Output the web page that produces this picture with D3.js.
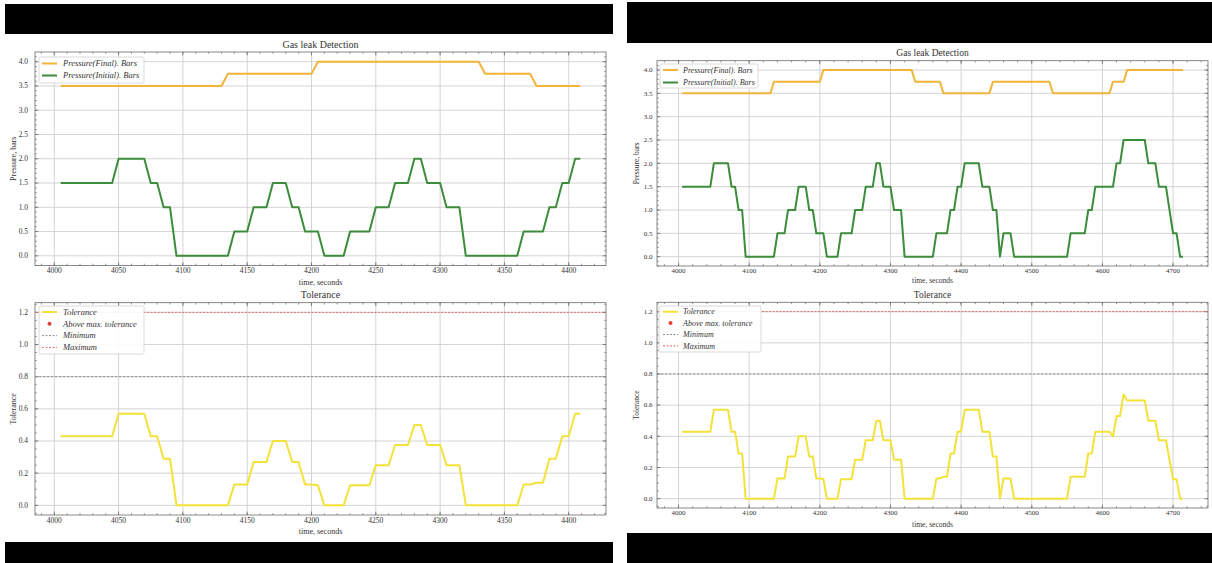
<!DOCTYPE html>
<html><head><meta charset="utf-8">
<script src="https://cdn.jsdelivr.net/npm/d3@7"></script>
<style>
html,body{margin:0;padding:0;background:#fff;}
svg{display:block;}
text{font-family:"Liberation Serif","DejaVu Serif",serif;fill:#333;}
</style></head>
<body>
<script>
// ---------- DATA ----------
const chartTitle = "Gas leak Detection";
const tolTitle = "Tolerance";
const xLabel = "time, seconds";
const pressureLabel = "Pressure, bars";
const tolLabel = "Tolerance";
const seriesNames = ["Pressure(Final). Bars", "Pressure(Initial). Bars"];
const tolLegendNames = ["Tolerance", "Above max. tolerance", "Minimum", "Maximum"];

const leftXTicks = [4000,4050,4100,4150,4200,4250,4300,4350,4400];
const rightXTicks = [4000,4100,4200,4300,4400,4500,4600,4700];
const pressureTicks = [0.0,0.5,1.0,1.5,2.0,2.5,3.0,3.5,4.0];
const toleranceTicks = [0.0,0.2,0.4,0.6,0.8,1.0,1.2];
const minTolerance = 0.8;
const maxTolerance = 1.2;

// left screenshot
const leftFinalT = [4005,4130,4135,4200,4205,4330,4335,4370,4375,4409];
const leftFinalV = [3.5,3.5,3.75,3.75,4.0,4.0,3.75,3.75,3.5,3.5];
const leftInitT = [4005,4045,4050,4070,4075,4080,4085,4090,4095,4135,
  4140,4150,4155,4165,4170,4180,4185,4190,4195,4205,
  4210,4225,4230,4245,4250,4260,4265,4275,4280,4285,
  4290,4300,4305,4315,4320,4360,4365,4380,4385,4390,
  4395,4400,4405,4409];
const leftInitV = [1.5,1.5,2,2,1.5,1.5,1,1,0,0,
  0.5,0.5,1,1,1.5,1.5,1,1,0.5,0.5,
  0,0,0.5,0.5,1,1,1.5,1.5,2,2,
  1.5,1.5,1,1,0,0,0.5,0.5,1,1,
  1.5,1.5,2,2];
const leftTolT = [4005,4045,4050,4070,4075,4080,4085,4090,4095,4135,
  4140,4150,4155,4165,4170,4180,4185,4190,4195,4200,
  4205,4210,4225,4230,4245,4250,4260,4265,4275,4280,
  4285,4290,4300,4305,4315,4320,4360,4365,4370,4375,
  4380,4385,4390,4395,4400,4405,4409];
const leftTolV = [0.43,0.43,0.57,0.57,0.43,0.43,0.29,0.29,0,0,
  0.13,0.13,0.27,0.27,0.40,0.40,0.27,0.27,0.13,0.13,
  0.125,0,0,0.125,0.125,0.25,0.25,0.375,0.375,0.5,
  0.5,0.375,0.375,0.25,0.25,0,0,0.13,0.13,0.14,
  0.14,0.29,0.29,0.43,0.43,0.57,0.57];

// right screenshot
const rightFinalT = [4005,4130,4135,4200,4205,4330,4335,4370,4375,4440,4445,4525,4530,4610,4615,4630,4635,4714];
const rightFinalV = [3.5,3.5,3.75,3.75,4.0,4.0,3.75,3.75,3.5,3.5,3.75,3.75,3.5,3.5,3.75,3.75,4.0,4.0];
const rightInitT = [4005,4045,4050,4070,4075,4080,4085,4090,4095,4135,
  4140,4150,4155,4165,4170,4180,4185,4190,4195,4205,
  4210,4225,4230,4245,4250,4260,4265,4275,4280,4285,
  4290,4300,4305,4315,4320,4360,4365,4380,4385,4390,
  4395,4400,4405,4425,4430,4440,4445,4450,4455,4460,
  4470,4475,4550,4555,4575,4580,4585,4590,4615,4620,
  4625,4630,4660,4665,4675,4680,4690,4700,4705,4710,
  4714];
const rightInitV = [1.5,1.5,2,2,1.5,1.5,1,1,0,0,
  0.5,0.5,1,1,1.5,1.5,1,1,0.5,0.5,
  0,0,0.5,0.5,1,1,1.5,1.5,2,2,
  1.5,1.5,1,1,0,0,0.5,0.5,1,1,
  1.5,1.5,2,2,1.5,1.5,1,1,0,0.5,
  0.5,0,0,0.5,0.5,1,1,1.5,1.5,2,
  2,2.5,2.5,2,2,1.5,1.5,0.5,0.5,0,
  0];
const rightTolT = [4005,4045,4050,4070,4075,4080,4085,4090,4095,4135,
  4140,4150,4155,4165,4170,4180,4185,4190,4195,4200,
  4205,4210,4225,4230,4245,4250,4260,4265,4275,4280,
  4285,4290,4300,4305,4315,4320,4360,4365,4370,4375,
  4380,4385,4390,4395,4400,4405,4425,4430,4440,4445,
  4450,4455,4460,4470,4475,4550,4555,4575,4580,4585,
  4590,4610,4615,4620,4625,4630,4635,4660,4665,4675,
  4680,4690,4700,4705,4710,4714];
const rightTolV = [0.43,0.43,0.57,0.57,0.43,0.43,0.29,0.29,0,0,
  0.13,0.13,0.27,0.27,0.40,0.40,0.27,0.27,0.13,0.13,
  0.125,0,0,0.125,0.125,0.25,0.25,0.375,0.375,0.5,
  0.5,0.375,0.375,0.25,0.25,0,0,0.13,0.13,0.14,
  0.14,0.29,0.29,0.43,0.43,0.57,0.57,0.43,0.43,0.27,
  0.27,0,0.13,0.13,0,0,0.14,0.14,0.29,0.29,
  0.43,0.43,0.40,0.53,0.53,0.67,0.63,0.63,0.5,0.5,
  0.375,0.375,0.125,0.125,0,0];

// ---------- STYLE / LAYOUT ----------
const W = 1212, H = 563;
const C = {final:"#f0b53a", init:"#3c8c3c", tol:"#f3e23a", red:"#e0403a", minC:"#8a8f99", maxC:"#e46a6a",
           grid:"#c9c9c9", frame:"#6a6a6a"};

const svg = d3.select("body").append("svg").attr("width", W).attr("height", H);
svg.append("rect").attr("width", W).attr("height", H).attr("fill", "#fff");

// black bars of the screenshots
const bars = [
  {x:5, y:4, w:608, h:30}, {x:5, y:542, w:608, h:21},
  {x:627, y:2, w:585, h:41}, {x:627, y:533, w:585, h:30}
];
svg.selectAll("rect.bar").data(bars).join("rect").attr("class","bar")
  .attr("x", d=>d.x).attr("y", d=>d.y).attr("width", d=>d.w).attr("height", d=>d.h).attr("fill", "#000");

const zip = (T, V) => T.map((t, i) => ({t, v: V[i]}));

function drawAxes(g, x, y, xTicks, yTicks, yFmt, minorX, minorY, P) {
  const fs = P.fs;
  const [x0, x1] = x.range(), [y1, y0] = y.range();
  // grid
  g.append("g").selectAll("line").data(xTicks).join("line")
    .attr("x1", d=>x(d)).attr("x2", d=>x(d)).attr("y1", y0).attr("y2", y1)
    .attr("stroke", C.grid).attr("stroke-width", 0.8);
  g.append("g").selectAll("line").data(yTicks).join("line")
    .attr("x1", x0).attr("x2", x1).attr("y1", d=>y(d)).attr("y2", d=>y(d))
    .attr("stroke", C.grid).attr("stroke-width", 0.8);
  // frame
  g.append("rect").attr("x", x0).attr("y", y0).attr("width", x1-x0).attr("height", y1-y0)
    .attr("fill", "none").attr("stroke", C.frame).attr("stroke-width", 0.8);
  // ticks (inward, all sides)
  const tk = g.append("g").attr("stroke", C.frame).attr("stroke-width", 0.7);
  const xd = x.domain(), yd = y.domain();
  const mx = d3.range(Math.ceil(xd[0]/minorX)*minorX, xd[1], minorX);
  const my = d3.range(Math.ceil(yd[0]/minorY)*minorY, yd[1], minorY);
  xTicks.forEach(t => { tk.append("line").attr("x1",x(t)).attr("x2",x(t)).attr("y1",y1).attr("y2",y1-3.5);
                        tk.append("line").attr("x1",x(t)).attr("x2",x(t)).attr("y1",y0).attr("y2",y0+3.5); });
  mx.forEach(t => { tk.append("line").attr("x1",x(t)).attr("x2",x(t)).attr("y1",y1).attr("y2",y1-1.8);
                    tk.append("line").attr("x1",x(t)).attr("x2",x(t)).attr("y1",y0).attr("y2",y0+1.8); });
  yTicks.forEach(t => { tk.append("line").attr("y1",y(t)).attr("y2",y(t)).attr("x1",x0).attr("x2",x0+3.5);
                        tk.append("line").attr("y1",y(t)).attr("y2",y(t)).attr("x1",x1).attr("x2",x1-3.5); });
  my.forEach(t => { tk.append("line").attr("y1",y(t)).attr("y2",y(t)).attr("x1",x0).attr("x2",x0+1.8);
                    tk.append("line").attr("y1",y(t)).attr("y2",y(t)).attr("x1",x1).attr("x2",x1-1.8); });
  // labels
  g.append("g").selectAll("text").data(xTicks).join("text")
    .attr("x", d=>x(d)).attr("y", y1 + P.tickDy).attr("text-anchor","middle")
    .attr("font-size", fs).attr("fill", "#444").text(d=>d);
  g.append("g").selectAll("text").data(yTicks).join("text")
    .attr("x", x0 - P.yTickGap).attr("y", d=>y(d) + fs*0.33).attr("text-anchor","end")
    .attr("font-size", fs).attr("fill", "#444").text(d=>yFmt(d));
}

function legend(g, box, items, fs) {
  g.append("rect").attr("x", box.x).attr("y", box.y).attr("width", box.w).attr("height", box.h)
    .attr("fill", "#fff").attr("fill-opacity", 0.9).attr("stroke", "#d0d0d0").attr("stroke-width", 0.8).attr("rx", 1.5);
  items.forEach((it, i) => {
    const yy = box.y + box.pad + i*box.step;
    if (it.type === "dot") {
      g.append("circle").attr("cx", box.sx + box.sw/2).attr("cy", yy).attr("r", 2).attr("fill", it.color);
    } else {
      g.append("line").attr("x1", box.sx).attr("x2", box.sx + box.sw).attr("y1", yy).attr("y2", yy)
        .attr("stroke", it.color).attr("stroke-width", it.w || 2).attr("stroke-dasharray", it.dash || null);
    }
    g.append("text").attr("x", box.tx).attr("y", yy + fs*0.33).attr("font-size", fs)
      .attr("font-style", "italic").text(it.label);
  });
}

function panel(P) {
  const g = svg.append("g");
  const x = d3.scaleLinear().domain(P.xDomain).range([P.x0, P.x1]);
  const yP = d3.scaleLinear().domain([-0.2, 4.2]).range([P.top.y1, P.top.y0]);
  const yT = d3.scaleLinear().domain([-0.06, 1.26]).range([P.bot.y1, P.bot.y0]);
  const cx = (P.x0 + P.x1)/2;

  // --- top: pressure ---
  drawAxes(g, x, yP, P.xTicks, pressureTicks, d3.format(".1f"), P.minorX, 0.1, P);
  const lineP = d3.line().x(d=>x(d.t)).y(d=>yP(d.v));
  g.append("path").datum(zip(P.finalT, P.finalV)).attr("d", lineP)
    .attr("fill","none").attr("stroke", C.final).attr("stroke-width", 2).attr("stroke-linejoin","round");
  g.append("path").datum(zip(P.initT, P.initV)).attr("d", lineP)
    .attr("fill","none").attr("stroke", C.init).attr("stroke-width", 2).attr("stroke-linejoin","round");
  g.append("text").attr("x", cx).attr("y", P.top.title).attr("text-anchor","middle").attr("font-size", P.tfs).text(chartTitle);
  g.append("text").attr("x", cx).attr("y", P.top.xl).attr("text-anchor","middle").attr("font-size", P.lfs).text(xLabel);
  g.append("text").attr("transform", `translate(${P.ylx},${(P.top.y0+P.top.y1)/2}) rotate(-90)`)
    .attr("text-anchor","middle").attr("font-size", P.lfs).text(pressureLabel);
  legend(g, P.top.leg, [
    {label: seriesNames[0], color: C.final},
    {label: seriesNames[1], color: C.init}
  ], P.legfs);

  // --- bottom: tolerance ---
  drawAxes(g, x, yT, P.xTicks, toleranceTicks, d3.format(".1f"), P.minorX, 0.05, P);
  g.append("line").attr("x1", P.x0).attr("x2", P.x1).attr("y1", yT(minTolerance)).attr("y2", yT(minTolerance))
    .attr("stroke", C.minC).attr("stroke-width", 1).attr("stroke-dasharray", "2.5,1.5");
  g.append("line").attr("x1", P.x0).attr("x2", P.x1).attr("y1", yT(maxTolerance)).attr("y2", yT(maxTolerance))
    .attr("stroke", C.maxC).attr("stroke-width", 1).attr("stroke-dasharray", "2,1.5");
  const lineT = d3.line().x(d=>x(d.t)).y(d=>yT(d.v));
  g.append("path").datum(zip(P.tolT, P.tolV)).attr("d", lineT)
    .attr("fill","none").attr("stroke", C.tol).attr("stroke-width", 2).attr("stroke-linejoin","round");
  g.append("text").attr("x", cx).attr("y", P.bot.title).attr("text-anchor","middle").attr("font-size", P.tfs).text(tolTitle);
  g.append("text").attr("x", cx).attr("y", P.bot.xl).attr("text-anchor","middle").attr("font-size", P.lfs).text(xLabel);
  g.append("text").attr("transform", `translate(${P.ylx},${(P.bot.y0+P.bot.y1)/2}) rotate(-90)`)
    .attr("text-anchor","middle").attr("font-size", P.lfs).text(tolLabel);
  legend(g, P.bot.leg, [
    {label: tolLegendNames[0], color: C.tol},
    {label: tolLegendNames[1], color: C.red, type: "dot"},
    {label: tolLegendNames[2], color: C.minC, dash: "2,1.5", w: 1},
    {label: tolLegendNames[3], color: C.maxC, dash: "2,1.5", w: 1}
  ], P.legfs);
}

panel({
  x0: 35, x1: 606, xDomain: [3985, 4429], xTicks: leftXTicks, minorX: 10,
  finalT: leftFinalT, finalV: leftFinalV, initT: leftInitT, initV: leftInitV, tolT: leftTolT, tolV: leftTolV,
  fs: 7.5, tickDy: 7.8, yTickGap: 7, tfs: 10, lfs: 8, legfs: 8.5, ylx: 16,
  top: {y0: 52, y1: 265.5, title: 48, xl: 284.5,
        leg: {x: 39, y: 57, w: 105, h: 26, pad: 6.5, step: 12, sx: 42, sw: 15, tx: 63}},
  bot: {y0: 302.7, y1: 515, title: 298, xl: 534,
        leg: {x: 39, y: 306, w: 105, h: 48, pad: 6, step: 11.8, sx: 42, sw: 15, tx: 63}}
});
panel({
  x0: 657, x1: 1208, xDomain: [3969.5, 4749.5], xTicks: rightXTicks, minorX: 20,
  finalT: rightFinalT, finalV: rightFinalV, initT: rightInitT, initV: rightInitV, tolT: rightTolT, tolV: rightTolV,
  fs: 7, tickDy: 7.2, yTickGap: 4.5, tfs: 9.5, lfs: 7.5, legfs: 8, ylx: 639,
  top: {y0: 60.7, y1: 266, title: 56, xl: 282.5,
        leg: {x: 660, y: 64, w: 98, h: 24, pad: 6, step: 12.5, sx: 663, sw: 15, tx: 683}},
  bot: {y0: 302.3, y1: 508, title: 298, xl: 527,
        leg: {x: 659, y: 306, w: 102, h: 46, pad: 5.7, step: 11.4, sx: 663, sw: 15, tx: 683}}
});
</script>
</body></html>
